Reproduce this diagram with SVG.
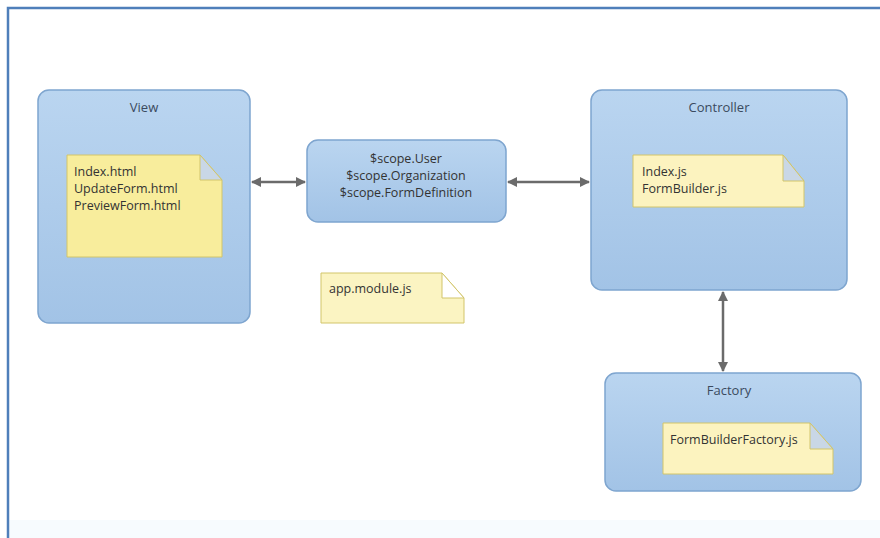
<svg xmlns="http://www.w3.org/2000/svg" width="880" height="538" viewBox="0 0 880 538">
  <defs>
    <linearGradient id="boxFill" x1="0" y1="0" x2="0" y2="1">
      <stop offset="0" stop-color="#bad5f0"/>
      <stop offset="1" stop-color="#a2c3e6"/>
    </linearGradient>
    <marker id="head" viewBox="0 0 10 10" refX="9" refY="5" markerWidth="4" markerHeight="4" orient="auto-start-reverse" markerUnits="strokeWidth">
      <path d="M0,0 L10,5 L0,10 z" fill="#6b6b6b"/>
    </marker>
    <style>
      .box { fill: url(#boxFill); stroke: #7ea5cf; stroke-width: 1.5; }
      .note { stroke: #d2c56a; stroke-width: 1; }
      .fold { fill: #c9d7e6; stroke: #d2c56a; stroke-width: 1; }
      .title { font-family: "Open Sans", "Liberation Sans", sans-serif; font-size: 13px; fill: #3b4a5e; text-anchor: middle; }
      .label { font-family: "Open Sans", "Liberation Sans", sans-serif; font-size: 12.5px; fill: #333333; }
      .mid { font-family: "Open Sans", "Liberation Sans", sans-serif; font-size: 12.5px; fill: #333333; text-anchor: middle; }
      .link { stroke: #6b6b6b; stroke-width: 2.5; fill: none; marker-start: url(#head); marker-end: url(#head); }
    </style>
  </defs>

  <!-- page background and frame -->
  <rect x="0" y="0" width="880" height="538" fill="#ffffff"/>
  <rect x="8" y="520" width="872" height="18" fill="#f7fbfe"/>
  <path d="M8,538 L8,8 L880,8" fill="none" stroke="#4f7fba" stroke-width="2.5"/>

  <!-- connectors -->
  <g id="connectors">
    <line class="link" x1="252" y1="182" x2="305" y2="182"/>
    <line class="link" x1="508" y1="182" x2="589" y2="182"/>
    <line class="link" x1="723" y1="292" x2="723" y2="371"/>
  </g>

  <g id="view">
    <rect class="box" x="38" y="90" width="212" height="233" rx="11"/>
    <text class="title" x="144" y="112">View</text>
    <path class="note" fill="#f8ed9c" d="M67,155 L200,155 L222,180 L222,257 L67,257 Z"/>
    <path class="fold" d="M200,155 L200,180 L222,180 Z"/>
    <text class="label" x="74" y="176">Index.html</text>
    <text class="label" x="74" y="193">UpdateForm.html</text>
    <text class="label" x="74" y="210">PreviewForm.html</text>
  </g>

  <g id="scope">
    <rect class="box" x="307" y="140" width="199" height="82" rx="11"/>
    <text class="mid" x="406" y="163">$scope.User</text>
    <text class="mid" x="406" y="180">$scope.Organization</text>
    <text class="mid" x="406" y="197">$scope.FormDefinition</text>
  </g>

  <g id="controller">
    <rect class="box" x="591" y="90" width="256" height="200" rx="11"/>
    <text class="title" x="719" y="112">Controller</text>
    <path class="note" fill="#fcf3bf" d="M633,155 L783,155 L804,181 L804,207 L633,207 Z"/>
    <path class="fold" d="M783,155 L783,181 L804,181 Z"/>
    <text class="label" x="642" y="176">Index.js</text>
    <text class="label" x="642" y="193">FormBuilder.js</text>
  </g>

  <g id="app-module">
    <path class="note" fill="#fbf4c2" d="M321,273 L442,273 L464,298 L464,323 L321,323 Z"/>
    <path d="M442,273 L442,298 L464,298 Z" fill="#ffffff" stroke="#d2c56a" stroke-width="1"/>
    <text class="label" x="329" y="293">app.module.js</text>
  </g>

  <g id="factory">
    <rect class="box" x="605" y="373" width="256" height="118" rx="11"/>
    <text class="title" x="729" y="395">Factory</text>
    <path class="note" fill="#fcf3bf" d="M663,423 L810,423 L833,449 L833,474 L663,474 Z"/>
    <path class="fold" d="M810,423 L810,449 L833,449 Z"/>
    <text class="label" x="670" y="444">FormBuilderFactory.js</text>
  </g>
</svg>
